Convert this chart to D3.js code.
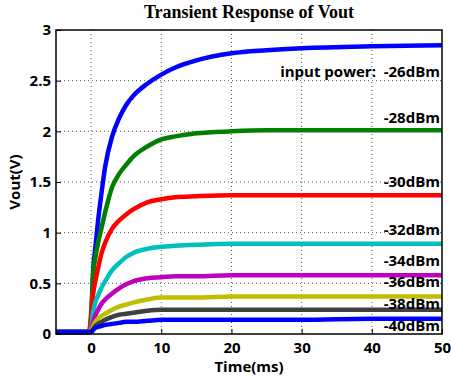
<!DOCTYPE html>
<html>
<head>
<meta charset="utf-8">
<script src="https://cdn.jsdelivr.net/npm/d3@7"></script>
<style>
  body { margin: 0; background: #fff; }
  svg { display: block; }
</style>
</head>
<body>
<div id="chart"></div>
<script>
// time samples (ms) shared by all traces
const times = [-5, -0.3, 0, 0.3, 0.6, 1, 1.5, 2, 3, 4, 5, 6, 8, 10, 12, 15, 20, 25, 30, 40, 50];

// Vout (V) per input power
const powers = ["-26dBm", "-28dBm", "-30dBm", "-32dBm", "-34dBm", "-36dBm", "-38dBm", "-40dBm"];
const vout26 = [0.02, 0.02, 0.1, 0.63, 0.85, 1.12, 1.4, 1.65, 1.95, 2.13, 2.26, 2.35, 2.47, 2.56, 2.63, 2.7, 2.77, 2.8, 2.82, 2.84, 2.85];
const vout28 = [0.02, 0.02, 0.2, 0.6, 0.75, 0.9, 1.05, 1.2, 1.45, 1.58, 1.67, 1.75, 1.85, 1.92, 1.95, 1.98, 2.0, 2.01, 2.01, 2.01, 2.01];
const vout30 = [0.02, 0.02, 0.15, 0.4, 0.52, 0.65, 0.8, 0.9, 1.04, 1.12, 1.18, 1.23, 1.3, 1.33, 1.35, 1.36, 1.37, 1.37, 1.37, 1.37, 1.37];
const vout32 = [0.02, 0.02, 0.06, 0.22, 0.31, 0.38, 0.46, 0.52, 0.63, 0.7, 0.76, 0.8, 0.84, 0.86, 0.87, 0.88, 0.89, 0.89, 0.89, 0.89, 0.89];
const vout34 = [0.02, 0.02, 0.04, 0.12, 0.18, 0.24, 0.3, 0.34, 0.4, 0.45, 0.49, 0.52, 0.55, 0.56, 0.57, 0.57, 0.58, 0.58, 0.58, 0.58, 0.58];
const vout36 = [0.02, 0.02, 0.03, 0.08, 0.12, 0.15, 0.18, 0.2, 0.24, 0.27, 0.29, 0.31, 0.34, 0.36, 0.36, 0.36, 0.37, 0.37, 0.37, 0.37, 0.37];
const vout38 = [0.02, 0.02, 0.02, 0.05, 0.08, 0.1, 0.12, 0.14, 0.17, 0.19, 0.2, 0.21, 0.23, 0.24, 0.24, 0.24, 0.24, 0.24, 0.24, 0.24, 0.24];
const vout40 = [0.02, 0.02, 0.02, 0.04, 0.06, 0.07, 0.08, 0.09, 0.1, 0.11, 0.12, 0.12, 0.13, 0.14, 0.14, 0.14, 0.14, 0.14, 0.14, 0.15, 0.15];
const colors = ["#0000ff", "#008000", "#ff0000", "#00bfbf", "#bf00bf", "#bfbf00", "#404040", "#0000ff"];

const xTicks = [0, 10, 20, 30, 40, 50];
const yTicks = [0, 0.5, 1, 1.5, 2, 2.5, 3];

const series = [vout26, vout28, vout30, vout32, vout34, vout36, vout38, vout40].map((v, i) => ({
  name: powers[i],
  color: colors[i],
  values: times.map((t, j) => ({ t: t, v: v[j] }))
}));

const W = 451, H = 378;
const margin = { top: 30, right: 9, bottom: 44, left: 56 };
const width = W - margin.left - margin.right;
const height = H - margin.top - margin.bottom;

const svg = d3.select("#chart").append("svg")
  .attr("width", W)
  .attr("height", H);

const g = svg.append("g")
  .attr("transform", "translate(" + margin.left + "," + margin.top + ")");

const x = d3.scaleLinear().domain([-5, 50]).range([0, width]);
const y = d3.scaleLinear().domain([0, 3]).range([height, 0]);

// dotted grid
g.append("g").selectAll("line")
  .data(xTicks.slice(0, -1))
  .enter().append("line")
  .attr("x1", d => x(d)).attr("x2", d => x(d))
  .attr("y1", 0).attr("y2", height)
  .attr("stroke", "#555").attr("stroke-width", 1)
  .attr("stroke-dasharray", "1,3");

g.append("g").selectAll("line")
  .data(yTicks.slice(1, -1))
  .enter().append("line")
  .attr("x1", 0).attr("x2", width)
  .attr("y1", d => y(d)).attr("y2", d => y(d))
  .attr("stroke", "#555").attr("stroke-width", 1)
  .attr("stroke-dasharray", "1,3");

// traces
const line = d3.line()
  .x(d => x(d.t))
  .y(d => y(d.v))
  .curve(d3.curveMonotoneX);

g.append("g").selectAll("path")
  .data(series)
  .enter().append("path")
  .attr("d", d => line(d.values))
  .attr("fill", "none")
  .attr("stroke", d => d.color)
  .attr("stroke-width", 4.5)
  .attr("stroke-linejoin", "round");

// axes
const axisFont = "'Open Sans', Lato, sans-serif";

const xAxis = g.append("g")
  .attr("transform", "translate(0," + height + ")")
  .call(d3.axisBottom(x).tickValues(xTicks).tickSize(-5).tickPadding(8));
const yAxis = g.append("g")
  .call(d3.axisLeft(y).tickValues(yTicks).tickSize(-5).tickPadding(5).tickFormat(d3.format("")));

[xAxis, yAxis].forEach(a => {
  a.select(".domain").remove();
  a.selectAll(".tick line").attr("stroke", "#000");
  a.selectAll("text")
    .attr("fill", "#000")
    .style("font-family", axisFont)
    .style("font-weight", "bold")
    .style("font-size", "15px");
});

// frame
g.append("rect")
  .attr("width", width).attr("height", height)
  .attr("fill", "none")
  .attr("stroke", "#000")
  .attr("stroke-width", 1.5);

// labels on the right
const labelY = [77, 123, 187, 235, 266, 287, 309, 331];
g.append("g").selectAll("text")
  .data(series)
  .enter().append("text")
  .attr("x", width - 2)
  .attr("y", (d, i) => labelY[i] - margin.top)
  .attr("text-anchor", "end")
  .style("font-family", axisFont)
  .style("font-weight", "bold")
  .style("font-size", "15px")
  .style("white-space", "pre")
  .text((d, i) => (i === 0 ? "input power:  " : "") + d.name);

// title and axis names
svg.append("text")
  .attr("x", margin.left + width / 2)
  .attr("y", 18)
  .attr("text-anchor", "middle")
  .style("font-family", "'Liberation Serif', 'DejaVu Serif', serif")
  .style("font-weight", "bold")
  .style("font-size", "18px")
  .text("Transient Response of Vout");

svg.append("text")
  .attr("x", margin.left + width / 2)
  .attr("y", 372)
  .attr("text-anchor", "middle")
  .style("font-family", axisFont)
  .style("font-weight", "bold")
  .style("font-size", "15px")
  .text("Time(ms)");

svg.append("text")
  .attr("transform", "translate(20," + (margin.top + height / 2) + ")rotate(-90)")
  .attr("text-anchor", "middle")
  .style("font-family", axisFont)
  .style("font-weight", "bold")
  .style("font-size", "15px")
  .text("Vout(V)");
</script>
</body>
</html>
